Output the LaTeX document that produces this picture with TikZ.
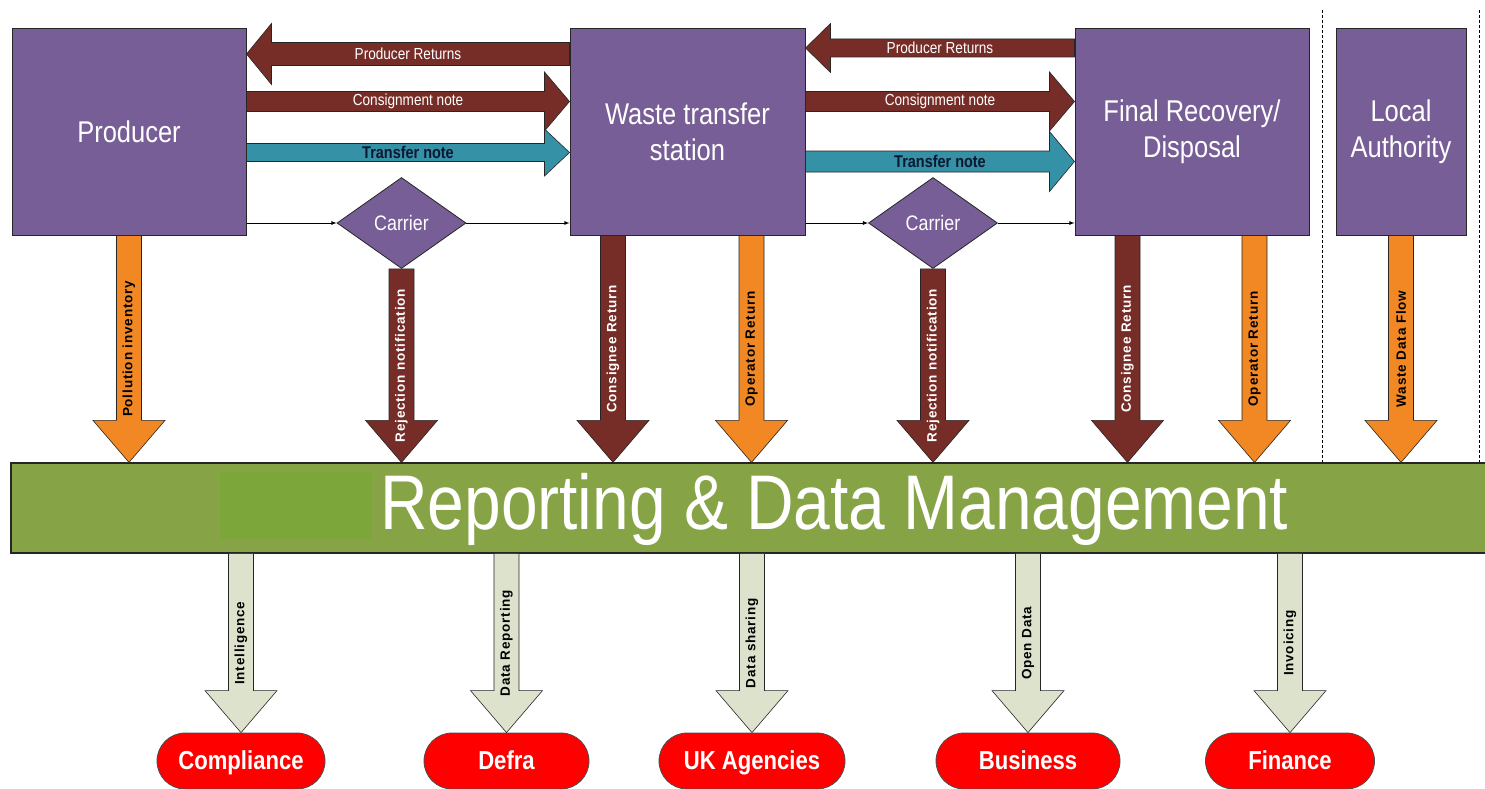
\documentclass[tikz,border=0pt]{standalone}
\usepackage{fontspec}
\setmainfont{Liberation Sans}
\newfontfamily\narrowfont[FakeStretch=0.85]{Liberation Sans}
\newfontfamily\flowfont[LetterSpace=6]{Liberation Sans}
\usepackage{tikz}
\usetikzlibrary{calc,positioning,arrows,shapes.geometric}
\usepackage{xcolor}

\definecolor{boxpurple}{RGB}{119,94,150}
\definecolor{flowbrown}{RGB}{119,45,39}
\definecolor{flowteal}{RGB}{52,145,166}
\definecolor{floworange}{RGB}{242,136,36}
\definecolor{flowgrey}{RGB}{221,226,204}
\definecolor{bargreen}{RGB}{134,164,70}
\definecolor{barinner}{RGB}{124,166,58}
\definecolor{outred}{RGB}{255,0,0}
\definecolor{notenavy}{RGB}{12,24,48}

\tikzset{
  entity/.style={draw=black!85, line width=1pt, fill=boxpurple, minimum height=206pt,
    inner sep=0pt, align=center, text=white, font=\narrowfont\fontsize{30}{36}\selectfont},
  carrier/.style={diamond, draw=black!85, line width=0.8pt, fill=boxpurple, inner sep=0pt,
    minimum width=129pt, minimum height=91pt, text=white, font=\narrowfont\fontsize{21}{21}\selectfont},
  databar/.style={draw=black!85, line width=1.2pt, fill=bargreen, inner sep=0pt,
    minimum width=1476pt, minimum height=90pt},
  bartext/.style={text=white, inner sep=0pt, font=\narrowfont\fontsize{77.5}{78}\selectfont},
  target/.style={draw=black!70, line width=0.8pt, fill=outred, rounded corners=28pt,
    minimum height=56pt, inner sep=0pt, text height=21pt, text depth=4pt, text=white,
    font=\narrowfont\bfseries\fontsize{26}{26}\selectfont},
  flow/.style={draw=black!85, line width=0.6pt},
  flowlabel/.style={inner sep=0pt, text=black, font=\flowfont\bfseries\fontsize{13.5}{14}\selectfont},
  hlabel/.style={inner sep=0pt, text=white, font=\narrowfont\fontsize{16}{16}\selectfont},
  tnote/.style={text=notenavy, font=\narrowfont\bfseries\fontsize{17}{17}\selectfont},
  sep/.style={dash pattern=on 3pt off 2pt, line width=0.8pt}
}

% fat downward arrow: style, from, to, label, label style
\newcommand{\vflowarrow}[5]{%
  \path[#1] let \p1=(#2), \p2=(#3) in
    (\x1-12.5pt,\y1) -- (\x1+12.5pt,\y1) -- (\x1+12.5pt,\y2+42pt)
    -- (\x1+36pt,\y2+42pt) -- (\x1,\y2) -- (\x1-36pt,\y2+42pt)
    -- (\x1-12.5pt,\y2+42pt) -- cycle;
  \path (#2) -- (#3) node[midway,rotate=90,flowlabel,#5] {#4};%
}
% fat sideways arrow: style, from, to, shaft half, head half, label, label style
\newcommand{\hflowarrow}[7]{%
  \path[#1] let \p1=(#2), \p2=(#3), \n1={sign(\x2-\x1)*25} in
    (\x1,\y1+#4) -- ({\x2-\n1*1pt},\y1+#4) -- ({\x2-\n1*1pt},\y1+#5)
    -- (\x2,\y1) -- ({\x2-\n1*1pt},\y1-#5) -- ({\x2-\n1*1pt},\y1-#4)
    -- (\x1,\y1-#4) -- cycle;
  \path (#2) -- (#3) node[midway,hlabel,#7] {#6};%
}

\begin{document}
\begin{tikzpicture}[x=1pt,y=-1pt]
\useasboundingbox (0,0) rectangle (1485,789);

\node[entity, minimum width=234pt] (prod) at (129,132) {Producer};
\node[entity, minimum width=235pt] (wts) at (687.5,132) {Waste transfer\\station};
\node[entity, minimum width=234pt] (frd) at (1192,132) {Final Recovery/\\Disposal};
\node[entity, minimum width=130pt] (la) at (1401,132) {Local\\Authority};
\node[carrier] (car1) at (401.5,223) {Carrier};
\node[carrier] (car2) at (933,223) {Carrier};

\draw[sep] (1322,10) -- (1322,463);
\draw[sep] (1479,10) -- (1479,463);

\node[databar] (rdm) at (749,508) {};
\fill[barinner] (220,472) rectangle (372,539);
\node[bartext, anchor=base west] (rdmtext) at (380,529) {Reporting \& Data Management};

\node[target, minimum width=168pt] (comp) at (241,761) {Compliance};
\node[target, minimum width=165pt] (defra) at (506.5,761) {Defra};
\node[target, minimum width=186pt] (ukag) at (752,761) {UK Agencies};
\node[target, minimum width=184pt] (bus) at (1028,761) {Business};
\node[target, minimum width=169pt] (fin) at (1290,761) {Finance};

% documents between the sites
\hflowarrow{flow, fill=flowbrown}{$(wts.north west)+(0,25.5)$}{$(prod.north east)+(0,25.5)$}{11.5pt}{30.5pt}{Producer Returns}{}
\hflowarrow{flow, fill=flowbrown}{$(prod.north east)+(0,73)$}{$(wts.north west)+(0,73)$}{10pt}{29.5pt}{Consignment note}{}
\hflowarrow{flow, fill=flowteal}{$(prod.north east)+(0,124)$}{$(wts.north west)+(0,124)$}{9pt}{23.5pt}{Transfer note}{tnote}
\hflowarrow{flow, fill=flowbrown}{$(frd.north west)+(0,19.5)$}{$(wts.north east)+(0,19.5)$}{9pt}{24.5pt}{Producer Returns}{}
\hflowarrow{flow, fill=flowbrown}{$(wts.north east)+(0,73)$}{$(frd.north west)+(0,73)$}{10pt}{29.5pt}{Consignment note}{}
\hflowarrow{flow, fill=flowteal}{$(wts.north east)+(0,133)$}{$(frd.north west)+(0,133)$}{10.5pt}{30pt}{Transfer note}{tnote}

\draw[-latex, line width=0.8pt] (car1.west -| prod.east) -- (car1.west);
\draw[-latex, line width=0.8pt] (car1.east) -- (car1.east -| wts.west);
\draw[-latex, line width=0.8pt] (car2.west -| wts.east) -- (car2.west);
\draw[-latex, line width=0.8pt] (car2.east) -- (car2.east -| frd.west);

% returns into reporting
\coordinate (wcons) at ($(wts.south west)+(43.5,0)$);
\coordinate (woper) at ($(wts.south west)+(182,0)$);
\coordinate (fcons) at ($(frd.south west)+(53,0)$);
\coordinate (foper) at ($(frd.south west)+(180,0)$);
\vflowarrow{flow, fill=floworange}{prod.south}{prod.south |- rdm.north}{Pollution inventory}{}
\vflowarrow{flow, fill=flowbrown}{car1.south}{car1.south |- rdm.north}{Rejection notification}{text=white}
\vflowarrow{flow, fill=flowbrown}{wcons}{wcons |- rdm.north}{Consignee Return}{text=white}
\vflowarrow{flow, fill=floworange}{woper}{woper |- rdm.north}{Operator Return}{}
\vflowarrow{flow, fill=flowbrown}{car2.south}{car2.south |- rdm.north}{Rejection notification}{text=white}
\vflowarrow{flow, fill=flowbrown}{fcons}{fcons |- rdm.north}{Consignee Return}{text=white}
\vflowarrow{flow, fill=floworange}{foper}{foper |- rdm.north}{Operator Return}{}
\vflowarrow{flow, fill=floworange}{la.south}{la.south |- rdm.north}{Waste Data Flow}{}

% outputs
\vflowarrow{flow, fill=flowgrey}{comp.north |- rdm.south}{comp.north}{Intelligence}{}
\vflowarrow{flow, fill=flowgrey}{defra.north |- rdm.south}{defra.north}{Data Reporting}{}
\vflowarrow{flow, fill=flowgrey}{ukag.north |- rdm.south}{ukag.north}{Data sharing}{}
\vflowarrow{flow, fill=flowgrey}{bus.north |- rdm.south}{bus.north}{Open Data}{}
\vflowarrow{flow, fill=flowgrey}{fin.north |- rdm.south}{fin.north}{Invoicing}{}
\end{tikzpicture}
\end{document}
